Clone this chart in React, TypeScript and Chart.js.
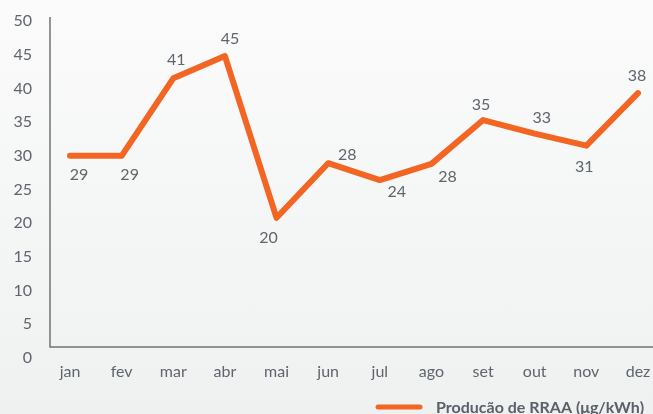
import React, { useEffect, useRef } from "react";
import { Chart, registerables } from "chart.js";

Chart.register(...registerables);

const months = ["jan", "fev", "mar", "abr", "mai", "jun", "jul", "ago", "set", "out", "nov", "dez"];
const productionValues = [30.0, 30.0, 41.5, 44.8, 20.8, 28.9, 26.4, 28.8, 35.3, 33.3, 31.5, 39.3];
const valueLabels = ["29", "29", "41", "45", "20", "28", "24", "28", "35", "33", "31", "38"];
const seriesName = "Producão de RRAA (μg/kWh)";
const yTicks = [0, 50, 5];

const ORANGE = "#F26522";
const TEXT = "#5f656c";
const AXIS = "#707478";
const FONT = "Lato, 'Noto Sans', sans-serif";

// label offsets (px) relative to each point
const labelOffsets: [number, number][] = [
  [9, 19], [8, 19], [3, -18], [5, -17], [-8, 20], [19, -8],
  [17, 12], [16, 13], [-2, -15], [7, -16], [-2, 21], [-1, -17],
];

const decorPlugin = {
  id: "decor",
  beforeDatasetsDraw(chart: any) {
    const ctx = chart.ctx;
    ctx.save();
    ctx.strokeStyle = AXIS;
    ctx.lineWidth = 1.5;
    ctx.beginPath();
    ctx.moveTo(50, 17);
    ctx.lineTo(50, 347);
    ctx.lineTo(653, 347);
    ctx.stroke();
    ctx.restore();
  },
  afterDatasetsDraw(chart: any) {
    const ctx = chart.ctx;
    const meta = chart.getDatasetMeta(0);
    ctx.save();
    ctx.fillStyle = TEXT;
    ctx.font = `16px ${FONT}`;
    ctx.textAlign = "center";
    ctx.textBaseline = "middle";
    meta.data.forEach((pt: any, i: number) => {
      const [dx, dy] = labelOffsets[i];
      ctx.fillText(valueLabels[i], pt.x + dx, pt.y + dy);
    });
    // legend
    ctx.strokeStyle = ORANGE;
    ctx.lineWidth = 5;
    ctx.lineCap = "round";
    ctx.beginPath();
    ctx.moveTo(378, 407);
    ctx.lineTo(420, 407);
    ctx.stroke();
    ctx.font = `bold 16px ${FONT}`;
    ctx.textAlign = "left";
    ctx.textBaseline = "alphabetic";
    ctx.fillStyle = "#596069";
    ctx.fillText(seriesName, 436, 413);
    ctx.restore();
  },
};

export default function App() {
  const ref = useRef<HTMLCanvasElement | null>(null);
  useEffect(() => {
    if (!ref.current) return;
    const chart = new Chart(ref.current, {
      type: "line",
      data: {
        labels: months,
        datasets: [
          {
            label: seriesName,
            data: productionValues,
            borderColor: ORANGE,
            backgroundColor: ORANGE,
            borderWidth: 6,
            borderJoinStyle: "round",
            borderCapStyle: "round",
            pointRadius: 0,
            tension: 0,
          },
        ],
      },
      options: {
        responsive: false,
        animation: false,
        layout: { padding: { top: 21, right: 15, bottom: 0, left: 0 } },
        plugins: { legend: { display: false }, tooltip: { enabled: false } },
        scales: {
          x: {
            grid: { display: false, drawTicks: false },
            border: { display: false },
            ticks: { color: TEXT, font: { family: FONT, size: 16 }, padding: 4, maxRotation: 0 },
            afterFit: (s: any) => { s.height = 56; s.paddingLeft = 0; s.paddingRight = 0; },
          },
          y: {
            min: yTicks[0],
            max: yTicks[1],
            grid: { display: false, drawTicks: false },
            border: { display: false },
            ticks: { stepSize: yTicks[2], color: TEXT, font: { family: FONT, size: 16 }, padding: 38 },
            afterFit: (s: any) => { s.width = 70; s.paddingTop = 0; s.paddingBottom = 0; },
          },
        },
      },
      plugins: [decorPlugin],
    } as any);
    return () => chart.destroy();
  }, []);
  return (
    <div
      style={{
        position: "fixed",
        left: 0,
        top: 0,
        width: 653,
        height: 414,
        background: "linear-gradient(#fbfbfb, #eff1f1)",
      }}
    >
      <canvas ref={ref} width={653} height={414} style={{ width: 653, height: 414 }} />
    </div>
  );
}
